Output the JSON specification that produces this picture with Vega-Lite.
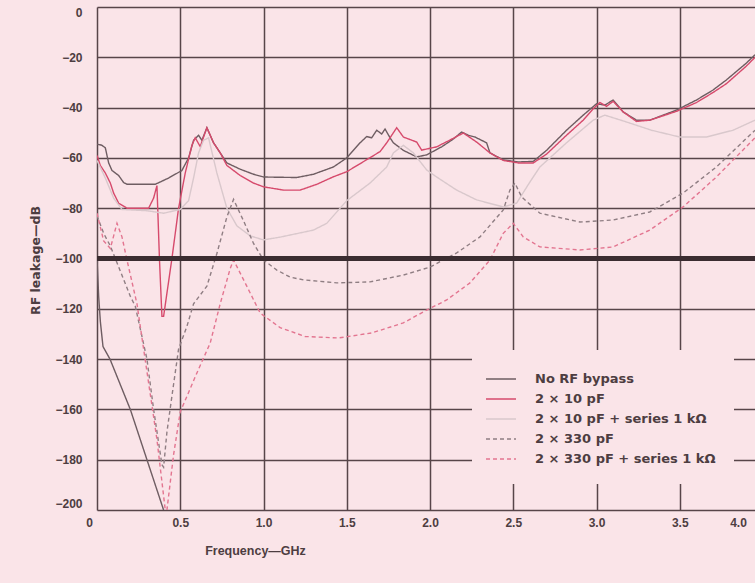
{
  "$schema": "https://vega.github.io/schema/vega-lite/v6.json",
  "width": 658,
  "height": 503,
  "autosize": {"type": "none"},
  "padding": {"left": 97, "top": 7, "right": 0, "bottom": 73},
  "background": "#fae4e8",
  "config": {
    "view": {"stroke": null},
    "font": "Liberation Sans, Arial, sans-serif",
    "axis": {
      "gridColor": "#574549",
      "gridWidth": 1.5,
      "gridOpacity": 1,
      "ticks": false,
      "domain": false,
      "labelFont": "Liberation Sans, Arial, sans-serif",
      "labelFontSize": 12,
      "labelFontWeight": "bold",
      "labelColor": "#4d3d41",
      "titleFont": "Liberation Sans, Arial, sans-serif",
      "titleFontSize": 12.5,
      "titleFontWeight": "bold",
      "titleColor": "#4d3d41"
    },
    "legend": {
      "orient": "none",
      "legendX": 375,
      "legendY": 343,
      "padding": 18,
      "fillColor": "#fae4e8",
      "symbolType": "M-1.5,0L1.5,0",
      "symbolSize": 400,
      "symbolStrokeWidth": 1.4,
      "symbolOffset": 0,
      "labelFont": "DejaVu Sans, sans-serif",
      "labelFontSize": 13,
      "labelFontWeight": "bold",
      "labelColor": "#4d3d41",
      "labelOffset": 23,
      "rowPadding": 2,
      "labelLimit": 400
    }
  },
  "data": {
    "values": [
      {"series": "No RF bypass", "seg": "a", "f": 0, "db": -54.5},
      {"series": "No RF bypass", "seg": "a", "f": 0.03, "db": -55},
      {"series": "No RF bypass", "seg": "a", "f": 0.05, "db": -56},
      {"series": "No RF bypass", "seg": "a", "f": 0.07, "db": -62},
      {"series": "No RF bypass", "seg": "a", "f": 0.09, "db": -65},
      {"series": "No RF bypass", "seg": "a", "f": 0.13, "db": -67},
      {"series": "No RF bypass", "seg": "a", "f": 0.16, "db": -69.8},
      {"series": "No RF bypass", "seg": "a", "f": 0.18, "db": -70.5},
      {"series": "No RF bypass", "seg": "a", "f": 0.35, "db": -70.5},
      {"series": "No RF bypass", "seg": "a", "f": 0.43, "db": -68},
      {"series": "No RF bypass", "seg": "a", "f": 0.51, "db": -65},
      {"series": "No RF bypass", "seg": "a", "f": 0.55, "db": -60},
      {"series": "No RF bypass", "seg": "a", "f": 0.58, "db": -53},
      {"series": "No RF bypass", "seg": "a", "f": 0.61, "db": -51},
      {"series": "No RF bypass", "seg": "a", "f": 0.63, "db": -53},
      {"series": "No RF bypass", "seg": "a", "f": 0.66, "db": -48},
      {"series": "No RF bypass", "seg": "a", "f": 0.7, "db": -54},
      {"series": "No RF bypass", "seg": "a", "f": 0.74, "db": -58},
      {"series": "No RF bypass", "seg": "a", "f": 0.78, "db": -62},
      {"series": "No RF bypass", "seg": "a", "f": 0.86, "db": -64.5},
      {"series": "No RF bypass", "seg": "a", "f": 0.94, "db": -66.5},
      {"series": "No RF bypass", "seg": "a", "f": 1.0, "db": -67.6},
      {"series": "No RF bypass", "seg": "a", "f": 1.2, "db": -67.8},
      {"series": "No RF bypass", "seg": "a", "f": 1.3, "db": -66.5},
      {"series": "No RF bypass", "seg": "a", "f": 1.42, "db": -63.6},
      {"series": "No RF bypass", "seg": "a", "f": 1.5, "db": -60},
      {"series": "No RF bypass", "seg": "a", "f": 1.58, "db": -54},
      {"series": "No RF bypass", "seg": "a", "f": 1.62, "db": -51.5},
      {"series": "No RF bypass", "seg": "a", "f": 1.65, "db": -52},
      {"series": "No RF bypass", "seg": "a", "f": 1.68, "db": -49},
      {"series": "No RF bypass", "seg": "a", "f": 1.71, "db": -50.5},
      {"series": "No RF bypass", "seg": "a", "f": 1.73, "db": -48.5},
      {"series": "No RF bypass", "seg": "a", "f": 1.76, "db": -52},
      {"series": "No RF bypass", "seg": "a", "f": 1.78, "db": -54},
      {"series": "No RF bypass", "seg": "a", "f": 1.84, "db": -57},
      {"series": "No RF bypass", "seg": "a", "f": 1.92, "db": -59.6},
      {"series": "No RF bypass", "seg": "a", "f": 1.98, "db": -58.8},
      {"series": "No RF bypass", "seg": "a", "f": 2.07, "db": -55.6},
      {"series": "No RF bypass", "seg": "a", "f": 2.14, "db": -52.5},
      {"series": "No RF bypass", "seg": "a", "f": 2.19, "db": -49.7},
      {"series": "No RF bypass", "seg": "a", "f": 2.23, "db": -51},
      {"series": "No RF bypass", "seg": "a", "f": 2.27, "db": -51.7},
      {"series": "No RF bypass", "seg": "a", "f": 2.34, "db": -54},
      {"series": "No RF bypass", "seg": "a", "f": 2.36, "db": -58},
      {"series": "No RF bypass", "seg": "a", "f": 2.44, "db": -60.8},
      {"series": "No RF bypass", "seg": "a", "f": 2.53, "db": -61.6},
      {"series": "No RF bypass", "seg": "a", "f": 2.62, "db": -61.4},
      {"series": "No RF bypass", "seg": "a", "f": 2.7, "db": -57},
      {"series": "No RF bypass", "seg": "a", "f": 2.82, "db": -49},
      {"series": "No RF bypass", "seg": "a", "f": 2.92, "db": -43},
      {"series": "No RF bypass", "seg": "a", "f": 3.0, "db": -38.5},
      {"series": "No RF bypass", "seg": "a", "f": 3.05, "db": -39},
      {"series": "No RF bypass", "seg": "a", "f": 3.1, "db": -37},
      {"series": "No RF bypass", "seg": "a", "f": 3.16, "db": -41.7},
      {"series": "No RF bypass", "seg": "a", "f": 3.24, "db": -45},
      {"series": "No RF bypass", "seg": "a", "f": 3.32, "db": -45},
      {"series": "No RF bypass", "seg": "a", "f": 3.48, "db": -41},
      {"series": "No RF bypass", "seg": "a", "f": 3.6, "db": -37},
      {"series": "No RF bypass", "seg": "a", "f": 3.7, "db": -33},
      {"series": "No RF bypass", "seg": "a", "f": 3.78, "db": -29},
      {"series": "No RF bypass", "seg": "a", "f": 3.9, "db": -22.3},
      {"series": "No RF bypass", "seg": "a", "f": 3.952, "db": -19},
      {"series": "No RF bypass", "seg": "b", "f": 0, "db": -100},
      {"series": "No RF bypass", "seg": "b", "f": 0.01, "db": -115},
      {"series": "No RF bypass", "seg": "b", "f": 0.02, "db": -125},
      {"series": "No RF bypass", "seg": "b", "f": 0.036, "db": -135},
      {"series": "No RF bypass", "seg": "b", "f": 0.078, "db": -140},
      {"series": "No RF bypass", "seg": "b", "f": 0.2, "db": -160},
      {"series": "No RF bypass", "seg": "b", "f": 0.3, "db": -180},
      {"series": "No RF bypass", "seg": "b", "f": 0.4, "db": -200},
      {"series": "2 × 10 pF", "seg": "a", "f": 0, "db": -59},
      {"series": "2 × 10 pF", "seg": "a", "f": 0.02, "db": -63},
      {"series": "2 × 10 pF", "seg": "a", "f": 0.05, "db": -66},
      {"series": "2 × 10 pF", "seg": "a", "f": 0.08, "db": -70},
      {"series": "2 × 10 pF", "seg": "a", "f": 0.1, "db": -74},
      {"series": "2 × 10 pF", "seg": "a", "f": 0.13, "db": -78},
      {"series": "2 × 10 pF", "seg": "a", "f": 0.18, "db": -80},
      {"series": "2 × 10 pF", "seg": "a", "f": 0.31, "db": -80},
      {"series": "2 × 10 pF", "seg": "a", "f": 0.34, "db": -76},
      {"series": "2 × 10 pF", "seg": "a", "f": 0.36, "db": -71},
      {"series": "2 × 10 pF", "seg": "a", "f": 0.375, "db": -100},
      {"series": "2 × 10 pF", "seg": "a", "f": 0.39, "db": -123},
      {"series": "2 × 10 pF", "seg": "a", "f": 0.4, "db": -123},
      {"series": "2 × 10 pF", "seg": "a", "f": 0.45, "db": -100},
      {"series": "2 × 10 pF", "seg": "a", "f": 0.49, "db": -80},
      {"series": "2 × 10 pF", "seg": "a", "f": 0.53, "db": -66},
      {"series": "2 × 10 pF", "seg": "a", "f": 0.57, "db": -55},
      {"series": "2 × 10 pF", "seg": "a", "f": 0.59, "db": -52},
      {"series": "2 × 10 pF", "seg": "a", "f": 0.62, "db": -55.5},
      {"series": "2 × 10 pF", "seg": "a", "f": 0.66, "db": -48},
      {"series": "2 × 10 pF", "seg": "a", "f": 0.7, "db": -54},
      {"series": "2 × 10 pF", "seg": "a", "f": 0.74, "db": -58},
      {"series": "2 × 10 pF", "seg": "a", "f": 0.78, "db": -63},
      {"series": "2 × 10 pF", "seg": "a", "f": 0.86, "db": -67},
      {"series": "2 × 10 pF", "seg": "a", "f": 0.94, "db": -70},
      {"series": "2 × 10 pF", "seg": "a", "f": 1.0, "db": -71.5},
      {"series": "2 × 10 pF", "seg": "a", "f": 1.12, "db": -72.8},
      {"series": "2 × 10 pF", "seg": "a", "f": 1.22, "db": -72.8},
      {"series": "2 × 10 pF", "seg": "a", "f": 1.32, "db": -70.5},
      {"series": "2 × 10 pF", "seg": "a", "f": 1.42, "db": -67.5},
      {"series": "2 × 10 pF", "seg": "a", "f": 1.5, "db": -65.5},
      {"series": "2 × 10 pF", "seg": "a", "f": 1.6, "db": -61.5},
      {"series": "2 × 10 pF", "seg": "a", "f": 1.7, "db": -57.5},
      {"series": "2 × 10 pF", "seg": "a", "f": 1.74, "db": -54},
      {"series": "2 × 10 pF", "seg": "a", "f": 1.8, "db": -48},
      {"series": "2 × 10 pF", "seg": "a", "f": 1.84, "db": -51.7},
      {"series": "2 × 10 pF", "seg": "a", "f": 1.92, "db": -53.7},
      {"series": "2 × 10 pF", "seg": "a", "f": 1.95, "db": -56.9},
      {"series": "2 × 10 pF", "seg": "a", "f": 2.04, "db": -55.6},
      {"series": "2 × 10 pF", "seg": "a", "f": 2.12, "db": -52.9},
      {"series": "2 × 10 pF", "seg": "a", "f": 2.2, "db": -50.1},
      {"series": "2 × 10 pF", "seg": "a", "f": 2.28, "db": -53.7},
      {"series": "2 × 10 pF", "seg": "a", "f": 2.36, "db": -58},
      {"series": "2 × 10 pF", "seg": "a", "f": 2.44, "db": -61},
      {"series": "2 × 10 pF", "seg": "a", "f": 2.53, "db": -62},
      {"series": "2 × 10 pF", "seg": "a", "f": 2.62, "db": -62},
      {"series": "2 × 10 pF", "seg": "a", "f": 2.7, "db": -58.5},
      {"series": "2 × 10 pF", "seg": "a", "f": 2.82, "db": -51},
      {"series": "2 × 10 pF", "seg": "a", "f": 2.92, "db": -45},
      {"series": "2 × 10 pF", "seg": "a", "f": 2.98, "db": -40.5},
      {"series": "2 × 10 pF", "seg": "a", "f": 3.02, "db": -38},
      {"series": "2 × 10 pF", "seg": "a", "f": 3.06, "db": -39.5},
      {"series": "2 × 10 pF", "seg": "a", "f": 3.1, "db": -37.5},
      {"series": "2 × 10 pF", "seg": "a", "f": 3.16, "db": -41.7},
      {"series": "2 × 10 pF", "seg": "a", "f": 3.24, "db": -45.5},
      {"series": "2 × 10 pF", "seg": "a", "f": 3.32, "db": -45},
      {"series": "2 × 10 pF", "seg": "a", "f": 3.48, "db": -41.5},
      {"series": "2 × 10 pF", "seg": "a", "f": 3.6, "db": -38},
      {"series": "2 × 10 pF", "seg": "a", "f": 3.7, "db": -34},
      {"series": "2 × 10 pF", "seg": "a", "f": 3.78, "db": -30.5},
      {"series": "2 × 10 pF", "seg": "a", "f": 3.9, "db": -23.5},
      {"series": "2 × 10 pF", "seg": "a", "f": 3.952, "db": -20},
      {"series": "2 × 10 pF + series 1 kΩ", "seg": "a", "f": 0, "db": -61},
      {"series": "2 × 10 pF + series 1 kΩ", "seg": "a", "f": 0.05, "db": -68},
      {"series": "2 × 10 pF + series 1 kΩ", "seg": "a", "f": 0.1, "db": -76},
      {"series": "2 × 10 pF + series 1 kΩ", "seg": "a", "f": 0.15, "db": -80.5},
      {"series": "2 × 10 pF + series 1 kΩ", "seg": "a", "f": 0.3, "db": -81},
      {"series": "2 × 10 pF + series 1 kΩ", "seg": "a", "f": 0.4, "db": -82},
      {"series": "2 × 10 pF + series 1 kΩ", "seg": "a", "f": 0.5, "db": -80.5},
      {"series": "2 × 10 pF + series 1 kΩ", "seg": "a", "f": 0.55, "db": -77},
      {"series": "2 × 10 pF + series 1 kΩ", "seg": "a", "f": 0.58, "db": -68},
      {"series": "2 × 10 pF + series 1 kΩ", "seg": "a", "f": 0.61, "db": -58},
      {"series": "2 × 10 pF + series 1 kΩ", "seg": "a", "f": 0.64, "db": -53},
      {"series": "2 × 10 pF + series 1 kΩ", "seg": "a", "f": 0.67, "db": -52},
      {"series": "2 × 10 pF + series 1 kΩ", "seg": "a", "f": 0.72, "db": -66},
      {"series": "2 × 10 pF + series 1 kΩ", "seg": "a", "f": 0.78, "db": -80},
      {"series": "2 × 10 pF + series 1 kΩ", "seg": "a", "f": 0.84, "db": -87},
      {"series": "2 × 10 pF + series 1 kΩ", "seg": "a", "f": 0.92, "db": -91},
      {"series": "2 × 10 pF + series 1 kΩ", "seg": "a", "f": 1.0, "db": -92.6},
      {"series": "2 × 10 pF + series 1 kΩ", "seg": "a", "f": 1.1, "db": -91.5},
      {"series": "2 × 10 pF + series 1 kΩ", "seg": "a", "f": 1.3, "db": -88.7},
      {"series": "2 × 10 pF + series 1 kΩ", "seg": "a", "f": 1.38, "db": -86},
      {"series": "2 × 10 pF + series 1 kΩ", "seg": "a", "f": 1.5, "db": -77},
      {"series": "2 × 10 pF + series 1 kΩ", "seg": "a", "f": 1.64, "db": -70},
      {"series": "2 × 10 pF + series 1 kΩ", "seg": "a", "f": 1.74, "db": -63.6},
      {"series": "2 × 10 pF + series 1 kΩ", "seg": "a", "f": 1.78, "db": -58},
      {"series": "2 × 10 pF + series 1 kΩ", "seg": "a", "f": 1.84, "db": -55},
      {"series": "2 × 10 pF + series 1 kΩ", "seg": "a", "f": 1.9, "db": -58},
      {"series": "2 × 10 pF + series 1 kΩ", "seg": "a", "f": 1.98, "db": -64.8},
      {"series": "2 × 10 pF + series 1 kΩ", "seg": "a", "f": 2.04, "db": -67.6},
      {"series": "2 × 10 pF + series 1 kΩ", "seg": "a", "f": 2.16, "db": -72.8},
      {"series": "2 × 10 pF + series 1 kΩ", "seg": "a", "f": 2.28, "db": -76.7},
      {"series": "2 × 10 pF + series 1 kΩ", "seg": "a", "f": 2.44, "db": -79.5},
      {"series": "2 × 10 pF + series 1 kΩ", "seg": "a", "f": 2.52, "db": -78},
      {"series": "2 × 10 pF + series 1 kΩ", "seg": "a", "f": 2.6, "db": -69.6},
      {"series": "2 × 10 pF + series 1 kΩ", "seg": "a", "f": 2.66, "db": -63.6},
      {"series": "2 × 10 pF + series 1 kΩ", "seg": "a", "f": 2.82, "db": -54},
      {"series": "2 × 10 pF + series 1 kΩ", "seg": "a", "f": 2.98, "db": -45},
      {"series": "2 × 10 pF + series 1 kΩ", "seg": "a", "f": 3.05, "db": -43},
      {"series": "2 × 10 pF + series 1 kΩ", "seg": "a", "f": 3.17, "db": -45.5},
      {"series": "2 × 10 pF + series 1 kΩ", "seg": "a", "f": 3.33, "db": -49},
      {"series": "2 × 10 pF + series 1 kΩ", "seg": "a", "f": 3.5, "db": -51.7},
      {"series": "2 × 10 pF + series 1 kΩ", "seg": "a", "f": 3.66, "db": -51.7},
      {"series": "2 × 10 pF + series 1 kΩ", "seg": "a", "f": 3.82, "db": -49},
      {"series": "2 × 10 pF + series 1 kΩ", "seg": "a", "f": 3.952, "db": -45},
      {"series": "2 × 330 pF", "seg": "a", "f": 0, "db": -83},
      {"series": "2 × 330 pF", "seg": "a", "f": 0.04, "db": -90},
      {"series": "2 × 330 pF", "seg": "a", "f": 0.08, "db": -95},
      {"series": "2 × 330 pF", "seg": "a", "f": 0.14, "db": -105},
      {"series": "2 × 330 pF", "seg": "a", "f": 0.2, "db": -115},
      {"series": "2 × 330 pF", "seg": "a", "f": 0.23, "db": -119},
      {"series": "2 × 330 pF", "seg": "a", "f": 0.3, "db": -140},
      {"series": "2 × 330 pF", "seg": "a", "f": 0.34, "db": -160},
      {"series": "2 × 330 pF", "seg": "a", "f": 0.39, "db": -182},
      {"series": "2 × 330 pF", "seg": "a", "f": 0.4, "db": -183},
      {"series": "2 × 330 pF", "seg": "a", "f": 0.42, "db": -169},
      {"series": "2 × 330 pF", "seg": "a", "f": 0.46, "db": -150},
      {"series": "2 × 330 pF", "seg": "a", "f": 0.49, "db": -136},
      {"series": "2 × 330 pF", "seg": "a", "f": 0.54, "db": -127},
      {"series": "2 × 330 pF", "seg": "a", "f": 0.58, "db": -118},
      {"series": "2 × 330 pF", "seg": "a", "f": 0.66, "db": -111},
      {"series": "2 × 330 pF", "seg": "a", "f": 0.72, "db": -98},
      {"series": "2 × 330 pF", "seg": "a", "f": 0.78, "db": -83.5},
      {"series": "2 × 330 pF", "seg": "a", "f": 0.82, "db": -76.5},
      {"series": "2 × 330 pF", "seg": "a", "f": 0.88, "db": -85},
      {"series": "2 × 330 pF", "seg": "a", "f": 0.94, "db": -94},
      {"series": "2 × 330 pF", "seg": "a", "f": 1.0, "db": -100.6},
      {"series": "2 × 330 pF", "seg": "a", "f": 1.08, "db": -104.6},
      {"series": "2 × 330 pF", "seg": "a", "f": 1.16, "db": -107.4},
      {"series": "2 × 330 pF", "seg": "a", "f": 1.24, "db": -108.5},
      {"series": "2 × 330 pF", "seg": "a", "f": 1.44, "db": -109.7},
      {"series": "2 × 330 pF", "seg": "a", "f": 1.64, "db": -109.3},
      {"series": "2 × 330 pF", "seg": "a", "f": 1.84, "db": -106.6},
      {"series": "2 × 330 pF", "seg": "a", "f": 2.0, "db": -103.4},
      {"series": "2 × 330 pF", "seg": "a", "f": 2.16, "db": -97.8},
      {"series": "2 × 330 pF", "seg": "a", "f": 2.3, "db": -91.4},
      {"series": "2 × 330 pF", "seg": "a", "f": 2.44, "db": -80.7},
      {"series": "2 × 330 pF", "seg": "a", "f": 2.48, "db": -72.8},
      {"series": "2 × 330 pF", "seg": "a", "f": 2.51, "db": -70},
      {"series": "2 × 330 pF", "seg": "a", "f": 2.55, "db": -75.5},
      {"series": "2 × 330 pF", "seg": "a", "f": 2.66, "db": -82},
      {"series": "2 × 330 pF", "seg": "a", "f": 2.9, "db": -85.5},
      {"series": "2 × 330 pF", "seg": "a", "f": 3.1, "db": -84.7},
      {"series": "2 × 330 pF", "seg": "a", "f": 3.32, "db": -81.5},
      {"series": "2 × 330 pF", "seg": "a", "f": 3.52, "db": -74},
      {"series": "2 × 330 pF", "seg": "a", "f": 3.72, "db": -63.6},
      {"series": "2 × 330 pF", "seg": "a", "f": 3.952, "db": -49},
      {"series": "2 × 330 pF + series 1 kΩ", "seg": "a", "f": 0, "db": -82},
      {"series": "2 × 330 pF + series 1 kΩ", "seg": "a", "f": 0.04, "db": -93},
      {"series": "2 × 330 pF + series 1 kΩ", "seg": "a", "f": 0.08, "db": -96},
      {"series": "2 × 330 pF + series 1 kΩ", "seg": "a", "f": 0.1, "db": -91},
      {"series": "2 × 330 pF + series 1 kΩ", "seg": "a", "f": 0.12, "db": -86},
      {"series": "2 × 330 pF + series 1 kΩ", "seg": "a", "f": 0.15, "db": -91.4},
      {"series": "2 × 330 pF + series 1 kΩ", "seg": "a", "f": 0.18, "db": -100.6},
      {"series": "2 × 330 pF + series 1 kΩ", "seg": "a", "f": 0.24, "db": -118},
      {"series": "2 × 330 pF + series 1 kΩ", "seg": "a", "f": 0.3, "db": -145},
      {"series": "2 × 330 pF + series 1 kΩ", "seg": "a", "f": 0.36, "db": -172},
      {"series": "2 × 330 pF + series 1 kΩ", "seg": "a", "f": 0.41, "db": -200},
      {"series": "2 × 330 pF + series 1 kΩ", "seg": "a", "f": 0.42, "db": -200},
      {"series": "2 × 330 pF + series 1 kΩ", "seg": "a", "f": 0.46, "db": -178},
      {"series": "2 × 330 pF + series 1 kΩ", "seg": "a", "f": 0.5, "db": -161},
      {"series": "2 × 330 pF + series 1 kΩ", "seg": "a", "f": 0.6, "db": -145.5},
      {"series": "2 × 330 pF + series 1 kΩ", "seg": "a", "f": 0.68, "db": -133.6},
      {"series": "2 × 330 pF + series 1 kΩ", "seg": "a", "f": 0.74, "db": -118},
      {"series": "2 × 330 pF + series 1 kΩ", "seg": "a", "f": 0.8, "db": -104},
      {"series": "2 × 330 pF + series 1 kΩ", "seg": "a", "f": 0.82, "db": -100.6},
      {"series": "2 × 330 pF + series 1 kΩ", "seg": "a", "f": 0.86, "db": -105.8},
      {"series": "2 × 330 pF + series 1 kΩ", "seg": "a", "f": 0.92, "db": -113.7},
      {"series": "2 × 330 pF + series 1 kΩ", "seg": "a", "f": 0.98, "db": -121.7},
      {"series": "2 × 330 pF + series 1 kΩ", "seg": "a", "f": 1.1, "db": -127.5},
      {"series": "2 × 330 pF + series 1 kΩ", "seg": "a", "f": 1.25, "db": -131},
      {"series": "2 × 330 pF + series 1 kΩ", "seg": "a", "f": 1.45, "db": -131.6},
      {"series": "2 × 330 pF + series 1 kΩ", "seg": "a", "f": 1.65, "db": -129.6},
      {"series": "2 × 330 pF + series 1 kΩ", "seg": "a", "f": 1.84, "db": -125.6},
      {"series": "2 × 330 pF + series 1 kΩ", "seg": "a", "f": 1.98, "db": -120.5},
      {"series": "2 × 330 pF + series 1 kΩ", "seg": "a", "f": 2.1, "db": -116.5},
      {"series": "2 × 330 pF + series 1 kΩ", "seg": "a", "f": 2.24, "db": -109.7},
      {"series": "2 × 330 pF + series 1 kΩ", "seg": "a", "f": 2.36, "db": -100.6},
      {"series": "2 × 330 pF + series 1 kΩ", "seg": "a", "f": 2.44, "db": -90},
      {"series": "2 × 330 pF + series 1 kΩ", "seg": "a", "f": 2.5, "db": -86},
      {"series": "2 × 330 pF + series 1 kΩ", "seg": "a", "f": 2.56, "db": -91.4},
      {"series": "2 × 330 pF + series 1 kΩ", "seg": "a", "f": 2.66, "db": -95.4},
      {"series": "2 × 330 pF + series 1 kΩ", "seg": "a", "f": 2.9, "db": -96.6},
      {"series": "2 × 330 pF + series 1 kΩ", "seg": "a", "f": 3.1, "db": -95.4},
      {"series": "2 × 330 pF + series 1 kΩ", "seg": "a", "f": 3.32, "db": -88.7},
      {"series": "2 × 330 pF + series 1 kΩ", "seg": "a", "f": 3.52, "db": -79.5},
      {"series": "2 × 330 pF + series 1 kΩ", "seg": "a", "f": 3.72, "db": -67.6},
      {"series": "2 × 330 pF + series 1 kΩ", "seg": "a", "f": 3.952, "db": -52}
    ]
  },
  "layer": [
    {
      "mark": {"type": "line", "clip": true, "strokeWidth": 1.4},
      "encoding": {
        "x": {
          "field": "f",
          "type": "quantitative",
          "scale": {"domain": [0, 4], "range": [0, 666], "nice": false, "zero": false},
          "axis": {
            "values": [0, 0.5, 1, 1.5, 2, 2.5, 3, 3.5, 4],
            "labelExpr": "datum.value == 0 ? '0' : format(datum.value, '.1f')",
            "labelPadding": 7,
            "labelFlush": false,
            "labelOffset": {"condition": [{"test": "datum.value === 0", "value": -8}, {"test": "datum.value === 4", "value": -25}], "value": 0},
            "title": "Frequency—GHz",
            "titleX": 158,
            "titleY": 40,
            "titleAlign": "center",
            "titleBaseline": "middle"
          }
        },
        "y": {
          "field": "db",
          "type": "quantitative",
          "scale": {"domain": [-200, 0], "nice": false},
          "axis": {
            "values": [-200, -180, -160, -140, -120, -100, -80, -60, -40, -20, 0],
            "labelPadding": 15,
            "labelFlush": true,
            "title": "RF leakage—dB",
            "titleFont": "DejaVu Sans, sans-serif",
            "titleFontSize": 12.5,
            "titleX": -62,
            "titleY": 253,
            "titleAngle": 270,
            "titleAlign": "center",
            "titleBaseline": "middle"
          }
        },
        "color": {
          "field": "series",
          "type": "nominal",
          "scale": {
            "domain": ["No RF bypass", "2 × 10 pF", "2 × 10 pF + series 1 kΩ", "2 × 330 pF", "2 × 330 pF + series 1 kΩ"],
            "range": ["#6e5d62", "#d64a6c", "#d9c8cc", "#8f7e83", "#e37590"]
          },
          "legend": {"title": null}
        },
        "strokeDash": {
          "field": "series",
          "type": "nominal",
          "scale": {
            "domain": ["No RF bypass", "2 × 10 pF", "2 × 10 pF + series 1 kΩ", "2 × 330 pF", "2 × 330 pF + series 1 kΩ"],
            "range": [[1, 0], [1, 0], [1, 0], [4, 3], [4, 3]]
          },
          "legend": {"title": null}
        },
        "detail": {"field": "seg", "type": "nominal"}
      }
    },
    {
      "mark": {"type": "rule", "color": "#3b2d31", "strokeWidth": 4.5},
      "encoding": {"y": {"datum": -100}}
    }
  ]
}
